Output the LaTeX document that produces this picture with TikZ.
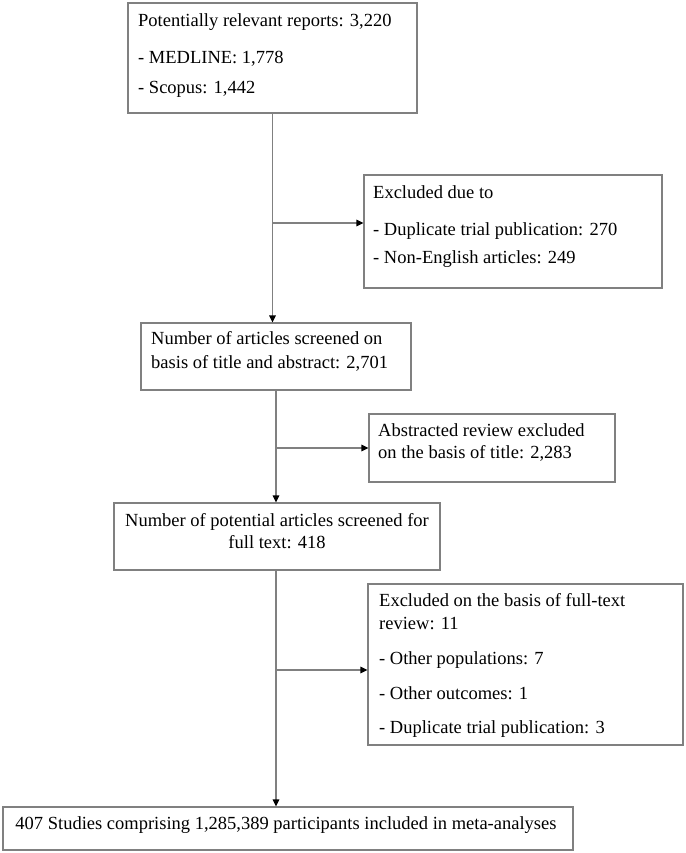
\documentclass[tikz,border=0pt]{standalone}
\usepackage{fontspec}
\setmainfont{Liberation Serif}
\usetikzlibrary{arrows.meta}
\definecolor{lc}{HTML}{808080}
\begin{document}
\begin{tikzpicture}[x=1pt,y=-1pt,
  boxst/.style={draw=lc,line width=1.1pt,inner sep=0pt,fill=none},
  txt/.style={inner sep=0pt,font=\fontsize{18.5}{22}\selectfont},
  ln/.style={draw=lc,line width=1.1pt},
  arr/.style={ln,-{Triangle[length=7pt,width=6.5pt,color=black]}}]
\useasboundingbox (0,0) rectangle (685,853);
% boxes
\node[boxst,minimum width=289pt,minimum height=110pt] (b1) at (272.5,58) {};
\node[boxst,minimum width=298pt,minimum height=113pt] (b2) at (513,231.5) {};
\node[boxst,minimum width=270pt,minimum height=67pt] (b3) at (276,356.5) {};
\node[boxst,minimum width=246pt,minimum height=68pt] (b4) at (492,448) {};
\node[boxst,minimum width=326pt,minimum height=67pt] (b5) at (277,536.5) {};
\node[boxst,minimum width=315pt,minimum height=161pt] (b6) at (525.5,664.5) {};
\node[boxst,minimum width=570pt,minimum height=43pt] (b7) at (288,828.5) {};
% texts
\node[txt,anchor=base west] (t1a) at (138,27) {Potentially relevant reports: 3,220};
\node[txt,anchor=base west] (t1b) at (138,64) {- MEDLINE: 1,778};
\node[txt,anchor=base west] (t1c) at (138,94) {- Scopus: 1,442};
\node[txt,anchor=base west] (t2a) at (373,198) {Excluded due to};
\node[txt,anchor=base west] (t2b) at (373,235) {- Duplicate trial publication: 270};
\node[txt,anchor=base west] (t2c) at (373,263) {- Non-English articles: 249};
\node[txt,anchor=base west] (t3a) at (151,344) {Number of articles screened on};
\node[txt,anchor=base west] (t3b) at (151,368) {basis of title and abstract: 2,701};
\node[txt,anchor=base west] (t4a) at (378,436) {Abstracted review excluded};
\node[txt,anchor=base west] (t4b) at (378,458) {on the basis of title: 2,283};
\node[txt,anchor=base] (t5a) at (277,526) {Number of potential articles screened for};
\node[txt,anchor=base] (t5b) at (277,548) {full text: 418};
\node[txt,anchor=base west] (t6a) at (379,606) {Excluded on the basis of full-text};
\node[txt,anchor=base west] (t6b) at (379,629) {review: 11};
\node[txt,anchor=base west] (t6c) at (379,664) {- Other populations: 7};
\node[txt,anchor=base west] (t6d) at (379,699) {- Other outcomes: 1};
\node[txt,anchor=base west] (t6e) at (379,733) {- Duplicate trial publication: 3};
\node[txt,anchor=base] (t7) at (286,829) {407 Studies comprising 1,285,389 participants included in meta-analyses};
% junctions
\coordinate (j1) at (272.5,223);
\coordinate (j2) at (276,448);
\coordinate (j3) at (276,670);
% connectors
\draw[arr] (b1.south) -- (b1.south |- b3.north);
\draw[arr] (j1) -- (j1 -| b2.west);
\draw[arr] (b3.south) -- (b3.south |- b5.north);
\draw[arr] (j2) -- (j2 -| b4.west);
\draw[arr] (j3 |- b5.south) -- (j3 |- b7.north);
\draw[arr] (j3) -- (j3 -| b6.west);
\end{tikzpicture}
\end{document}
